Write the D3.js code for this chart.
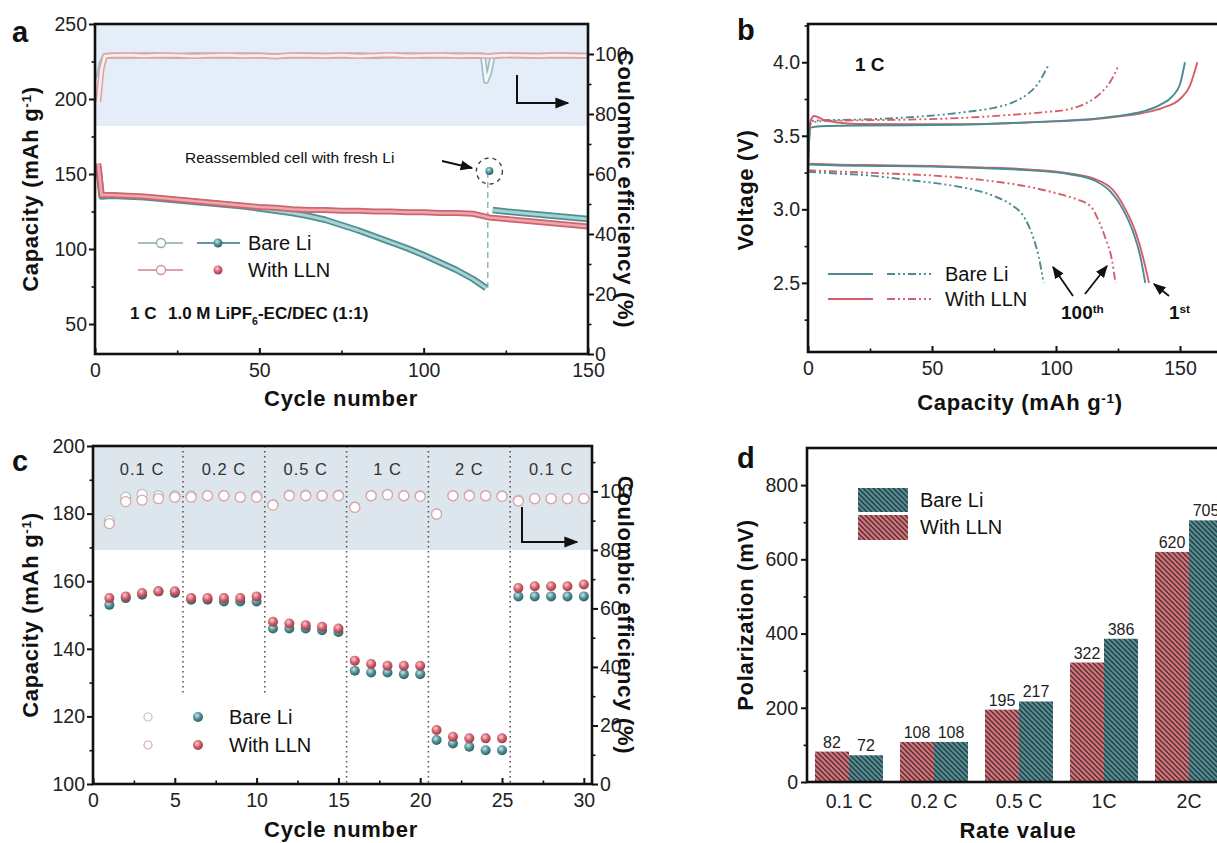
<!DOCTYPE html>
<html>
<head>
<meta charset="utf-8">
<script src="https://cdn.jsdelivr.net/npm/d3@7"></script>
<style>
body { margin: 0; background: #fff; }
text { font-family: 'Liberation Sans', Arial, sans-serif; }
</style>
</head>
<body>
<script>
// ---------- data ----------
// (a) cycling at 1 C
var bareCycA = [1, 2, 5, 10, 15, 20, 25, 30, 35, 40, 45, 50, 55, 60, 65, 70, 75, 80, 85, 90, 95, 100, 105, 110, 115, 119];
var bareCapA = [155, 135, 135.5, 135, 134.5, 133.5, 132.5, 131.5, 130.5, 129.5, 128.5, 127, 125.5, 124, 122, 119.5, 116, 112.5, 108.5, 104.5, 100.5, 96, 91, 86, 80, 74];
var bareCycA2 = [120, 121, 125, 130, 135, 140, 145, 150];
var bareCapA2 = [152, 126, 125, 124, 123, 122, 121, 120];
var llnCycA = [1, 2, 5, 10, 15, 20, 25, 30, 35, 40, 45, 50, 55, 60, 65, 70, 75, 80, 85, 90, 95, 100, 105, 110, 115, 120, 125, 130, 135, 140, 145, 150];
var llnCapA = [157, 136, 136, 135.5, 135, 134, 133, 132, 131, 130, 129, 128, 127.5, 126.5, 126, 126, 125.5, 125.5, 125, 125, 124.5, 124.5, 124, 124, 123.5, 121, 120, 119, 118, 117, 116, 115];
var bareCycCE = [1, 2, 3, 5, 10, 15, 20, 25, 30, 35, 40, 45, 50, 55, 60, 65, 70, 75, 80, 85, 90, 95, 100, 105, 110, 115, 118, 119, 120, 121, 125, 130, 135, 140, 145, 150];
var bareCE = [91.5, 97, 99.3, 99.5, 99.4, 99.6, 99.5, 99.3, 99.6, 99.5, 99.4, 99.6, 99.5, 99.3, 99.5, 99.6, 99.4, 99.5, 99.6, 99.3, 99.5, 99.6, 99.4, 99.5, 99.6, 99.4, 99.5, 91, 94, 99.4, 99.6, 99.5, 99.4, 99.6, 99.5, 99.4];
var llnCycCE = [1, 2, 3, 5, 10, 15, 20, 25, 30, 35, 40, 45, 50, 55, 60, 65, 70, 75, 80, 85, 90, 95, 100, 105, 110, 115, 120, 125, 130, 135, 140, 145, 150];
var llnCE = [84, 95, 99.3, 99.5, 99.6, 99.4, 99.6, 99.5, 99.3, 99.5, 99.6, 99.4, 99.5, 99.2, 99.6, 99.5, 99.4, 99.6, 99.3, 99.5, 99.7, 99.4, 99.5, 99.6, 99.4, 99.5, 99.3, 99.6, 99.5, 99.4, 99.6, 99.5, 99.4];

// (b) voltage profiles, [capacity, voltage]
var bareCh1 = [[0, 3.3], [1, 3.555], [5, 3.565], [20, 3.57], [40, 3.572], [60, 3.575], [80, 3.585], [100, 3.6], [115, 3.615], [125, 3.635], [135, 3.665], [142, 3.71], [147, 3.77], [150, 3.85], [152, 4.0]];
var llnCh1 = [[0, 3.3], [1, 3.6], [2.5, 3.635], [6, 3.61], [12, 3.59], [20, 3.58], [40, 3.578], [60, 3.578], [80, 3.585], [100, 3.598], [115, 3.612], [125, 3.63], [135, 3.655], [143, 3.69], [150, 3.75], [154, 3.84], [157, 4.0]];
var bareCh100 = [[0, 3.25], [1, 3.6], [5, 3.605], [20, 3.61], [40, 3.625], [55, 3.645], [65, 3.665], [75, 3.69], [83, 3.73], [89, 3.79], [93, 3.86], [96, 3.95], [97, 3.98]];
var llnCh100 = [[0, 3.25], [1, 3.58], [5, 3.6], [20, 3.605], [40, 3.61], [60, 3.62], [80, 3.64], [95, 3.66], [105, 3.68], [112, 3.72], [118, 3.79], [122, 3.87], [125, 3.97]];
var bareDis1 = [[0, 3.305], [10, 3.3], [30, 3.295], [50, 3.29], [70, 3.28], [90, 3.265], [105, 3.24], [115, 3.2], [122, 3.12], [127, 3.0], [131, 2.85], [134, 2.68], [136, 2.5]];
var llnDis1 = [[0, 3.31], [10, 3.305], [30, 3.3], [50, 3.295], [70, 3.285], [90, 3.27], [105, 3.245], [115, 3.21], [123, 3.13], [128, 3.0], [132, 2.85], [135, 2.68], [137.5, 2.5]];
var bareDis100 = [[0, 3.255], [10, 3.245], [25, 3.23], [40, 3.2], [55, 3.17], [65, 3.14], [75, 3.09], [82, 3.03], [87, 2.95], [91, 2.8], [93, 2.68], [95, 2.5]];
var llnDis100 = [[0, 3.265], [15, 3.255], [30, 3.245], [50, 3.23], [70, 3.2], [90, 3.15], [100, 3.11], [108, 3.07], [114, 3.02], [117, 2.93], [120, 2.8], [122.5, 2.66], [124, 2.5]];

// (c) rate capability
var cycC = [1, 2, 3, 4, 5, 6, 7, 8, 9, 10, 11, 12, 13, 14, 15, 16, 17, 18, 19, 20, 21, 22, 23, 24, 25, 26, 27, 28, 29, 30];
var bareCapC = [153, 155, 156, 157, 156.5, 154.5, 154.5, 154, 154, 154, 146, 146, 146, 145.5, 145, 133.5, 133, 133, 132.5, 132.5, 113, 112, 111, 110, 110, 155.5, 155.5, 155.5, 155.5, 155.5];
var llnCapC = [155, 155.5, 156.5, 157, 157, 155, 155, 155, 155, 155.5, 148, 147.5, 147, 146.5, 146, 136.5, 135.5, 135, 135, 135, 116, 114, 113.5, 113.5, 113.5, 158, 158.5, 158.5, 158.5, 159];
var bareCEC = [90, 98, 99, 98.5, 98.5, 98.5, 98.5, 98.5, 98, 98.5, 95.5, 98.8, 98.8, 98.5, 98.8, 94.7, 98.5, 99, 98.5, 98.5, 92.3, 98.5, 98.8, 98.5, 98.5, 97, 97.5, 97.5, 97.5, 97.5];
var llnCEC = [89, 96.5, 97, 97.5, 98, 98, 98.5, 98.5, 98, 98, 95.3, 98.5, 98.5, 98.5, 98.5, 94.5, 98.5, 98.8, 98.5, 98.3, 92.2, 98.5, 98.5, 98.5, 98.3, 96.7, 97.5, 97.5, 97.5, 97.5];
var rateLabels = ["0.1 C", "0.2 C", "0.5 C", "1 C", "2 C", "0.1 C"];
var rateMid = [3, 8, 13, 18, 23, 28];
var rateBreaks = [5.5, 10.5, 15.5, 20.5, 25.5];

// (d) polarization
var rates = ["0.1 C", "0.2 C", "0.5 C", "1C", "2C"];
var polLLN = [82, 108, 195, 322, 620];
var polBare = [72, 108, 217, 386, 705];

// ---------- colours ----------
var TEAL = "#4a8c91", RED = "#d45f6b";
var FONT = "'Liberation Sans', Arial, sans-serif";
var TICK = 19.5, TITLE = 22;

var svg = d3.select("body").append("svg")
    .attr("width", 1217)
    .attr("height", 843);

var defs = svg.append("defs");

defs.append("marker")
    .attr("id", "arr")
    .attr("viewBox", "0 0 10 10")
    .attr("refX", 9).attr("refY", 5)
    .attr("markerWidth", 7).attr("markerHeight", 7)
    .attr("orient", "auto")
  .append("path")
    .attr("d", "M0,1 L10,5 L0,9 z")
    .attr("fill", "#111");

function sphere(id, light, mid, dark) {
  var gr = defs.append("radialGradient").attr("id", id)
      .attr("cx", "40%").attr("cy", "35%").attr("r", "65%");
  gr.append("stop").attr("offset", "0%").attr("stop-color", light);
  gr.append("stop").attr("offset", "55%").attr("stop-color", mid);
  gr.append("stop").attr("offset", "100%").attr("stop-color", dark);
}
sphere("ballTeal", "#c9e6e6", "#4f9096", "#2b6166");
sphere("ballRed", "#f9cdd1", "#d2606c", "#9c3b47");

function hatch(id, fill) {
  var p = defs.append("pattern").attr("id", id)
      .attr("patternUnits", "userSpaceOnUse")
      .attr("width", 5).attr("height", 5);
  p.append("rect").attr("width", 5).attr("height", 5).attr("fill", fill);
  p.append("path")
      .attr("d", "M-1,4 l2,2 M0,0 l5,5 M4,-1 l2,2")
      .attr("stroke", "#222").attr("stroke-width", 1.3).attr("stroke-opacity", 0.8);
}
hatch("hatchTeal", "#4f8e95");
hatch("hatchRed", "#d9717b");

// ---------- helpers ----------
function axis(pos, scale, orient, major, minor, fmt, inward, pad) {
  var mk = orient === "left" ? d3.axisLeft : orient === "right" ? d3.axisRight : d3.axisBottom;
  var t = orient === "bottom" ? "translate(0," + pos + ")" : "translate(" + pos + ",0)";
  var s = inward ? -1 : 1;
  if (minor) {
    var m = svg.append("g").attr("transform", t)
        .call(mk(scale).tickValues(minor).tickSize(3.5 * s).tickFormat(""));
    m.select(".domain").remove();
    m.selectAll("line").attr("stroke", "#111").attr("stroke-width", 1.6);
  }
  var a = svg.append("g").attr("transform", t)
      .call(mk(scale).tickValues(major).tickSize(6 * s).tickPadding(pad).tickFormat(fmt));
  a.select(".domain").remove();
  a.selectAll("line").attr("stroke", "#111").attr("stroke-width", 2);
  a.selectAll("text")
      .attr("font-family", FONT)
      .attr("font-size", TICK)
      .attr("fill", "#222");
  return a;
}

function frame(x0, y0, x1, y1) {
  svg.append("rect")
      .attr("x", x0).attr("y", y0)
      .attr("width", x1 - x0).attr("height", y1 - y0)
      .attr("fill", "none")
      .attr("stroke", "#111")
      .attr("stroke-width", 2.6);
}

function label(x, y, txt, size, weight, anchor, rot) {
  var t = svg.append("text")
      .attr("transform", "translate(" + x + "," + y + ")" + (rot ? " rotate(" + rot + ")" : ""))
      .attr("font-size", size)
      .attr("font-weight", weight || "normal")
      .attr("text-anchor", anchor || "start")
      .attr("fill", "#111");
  if (typeof txt === "string") {
    t.text(txt);
  } else {
    txt.forEach(function(part) {
      var sp = t.append("tspan").text(part[0]);
      if (part[1] === "sup") sp.attr("baseline-shift", "super").attr("font-size", size * 0.62);
      if (part[1] === "sub") sp.attr("baseline-shift", "sub").attr("font-size", size * 0.62);
    });
  }
  return t;
}

function title(x, y, txt, rot) {
  return label(x, y, txt, TITLE, "bold", "middle", rot).attr("letter-spacing", 0.7);
}

var capTitle = [["Capacity (mAh g"], ["-1", "sup"], [")"]];

// =========================================================
// (a) long-term cycling
// =========================================================
var aX = d3.scaleLinear().domain([0, 150]).range([95, 588]);
var aY = d3.scaleLinear().domain([30, 250]).range([354, 24]);
var aY2 = d3.scaleLinear().domain([0, 110]).range([354, 24]);

svg.append("rect")
    .attr("x", aX(0)).attr("y", aY2(110))
    .attr("width", aX(150) - aX(0))
    .attr("height", aY2(76) - aY2(110))
    .attr("fill", "#e5eef8");

function zipA(xs, ys) { return xs.map(function(c, i) { return [c, ys[i]]; }); }
var aLine = d3.line().x(function(d) { return aX(d[0]); }).y(function(d) { return aY(d[1]); });
var aLineCE = d3.line().x(function(d) { return aX(d[0]); }).y(function(d) { return aY2(d[1]); });

function chain(path, d, outer, inner, w) {
  svg.append("path").attr("d", path(d)).attr("fill", "none")
      .attr("stroke", outer).attr("stroke-width", w).attr("stroke-linejoin", "round");
  svg.append("path").attr("d", path(d)).attr("fill", "none")
      .attr("stroke", inner).attr("stroke-width", w * 0.45).attr("stroke-linejoin", "round");
}

// coulombic efficiency chains
chain(aLineCE, zipA(bareCycCE, bareCE), "#9fbcc0", "#f3f8f8", 6);
chain(aLineCE, zipA(llnCycCE, llnCE), "#dba5aa", "#fbeeee", 6);

// reassembly jump
svg.append("line")
    .attr("x1", aX(119.5)).attr("x2", aX(119.5))
    .attr("y1", aY(74)).attr("y2", aY(150))
    .attr("stroke", "#8fb7bb").attr("stroke-width", 1.5)
    .attr("stroke-dasharray", "6,4");

// capacity chains
chain(aLine, zipA(bareCycA, bareCapA), "#4f8f94", "#a7d3d3", 6.5);
chain(aLine, zipA(bareCycA2.slice(1), bareCapA2.slice(1)), "#4f8f94", "#a7d3d3", 6.5);
chain(aLine, zipA(llnCycA, llnCapA), "#cc6570", "#efa6ac", 6);

svg.append("circle")
    .attr("cx", aX(bareCycA2[0])).attr("cy", aY(bareCapA2[0])).attr("r", 4)
    .attr("fill", "url(#ballTeal)");
svg.append("circle")
    .attr("cx", aX(bareCycA2[0])).attr("cy", aY(bareCapA2[0])).attr("r", 13)
    .attr("fill", "none").attr("stroke", "#333").attr("stroke-width", 1.3)
    .attr("stroke-dasharray", "4,4");

label(185, 163, "Reassembled cell with fresh Li", 15.5, "normal", "start");
svg.append("line").attr("x1", 442).attr("y1", 161).attr("x2", 472).attr("y2", 168)
    .attr("stroke", "#111").attr("stroke-width", 1.8).attr("marker-end", "url(#arr)");

svg.append("path").attr("d", "M517,75 V103 H568")
    .attr("fill", "none").attr("stroke", "#111").attr("stroke-width", 2)
    .attr("marker-end", "url(#arr)");

// legend (a)
svg.append("line").attr("x1", 138).attr("x2", 183).attr("y1", 243).attr("y2", 243)
    .attr("stroke", "#a6c0c2").attr("stroke-width", 2);
svg.append("circle").attr("cx", 161).attr("cy", 243).attr("r", 4.5)
    .attr("fill", "#fff").attr("stroke", "#8aa9ac").attr("stroke-width", 1.3);
svg.append("line").attr("x1", 197).attr("x2", 240).attr("y1", 243).attr("y2", 243)
    .attr("stroke", "#5f999d").attr("stroke-width", 2);
svg.append("circle").attr("cx", 218).attr("cy", 243).attr("r", 4.5).attr("fill", "url(#ballTeal)");
svg.append("line").attr("x1", 138).attr("x2", 183).attr("y1", 270).attr("y2", 270)
    .attr("stroke", "#dca4a8").attr("stroke-width", 2);
svg.append("circle").attr("cx", 161).attr("cy", 270).attr("r", 4.5)
    .attr("fill", "#fff").attr("stroke", "#d08f95").attr("stroke-width", 1.3);
svg.append("circle").attr("cx", 218).attr("cy", 270).attr("r", 4.5).attr("fill", "url(#ballRed)");
label(248, 250, "Bare Li", 20, "normal", "start");
label(248, 277, "With LLN", 20, "normal", "start");

label(130, 319, "1 C", 17, "bold", "start");
label(168, 319, [["1.0 M LiPF"], ["6", "sub"], ["-EC/DEC (1:1)"]], 17, "bold", "start");

frame(95, 24, 588, 354);
axis(95, aY, "left", [50, 100, 150, 200, 250], [75, 125, 175, 225], d3.format("d"), false, 2);
axis(588, aY2, "right", [0, 20, 40, 60, 80, 100], [10, 30, 50, 70, 90], d3.format("d"), false, 1);
axis(354, aX, "bottom", [0, 50, 100, 150], [25, 75, 125], d3.format("d"), true, 9);

label(12, 42, "a", 29, "bold", "start");
title(38, 189, capTitle, -90);
title(618, 189, "Coulombic efficiency (%)", 90);
title(341, 406, "Cycle number");

// =========================================================
// (b) voltage profiles
// =========================================================
var bX = d3.scaleLinear().domain([0, 175]).range([808, 1242]);
var bY = d3.scaleLinear().domain([2.03, 4.26]).range([352, 24]);
var bLine = d3.line()
    .x(function(d) { return bX(d[0]); })
    .y(function(d) { return bY(d[1]); })
    .curve(d3.curveMonotoneX);
var DDOT = "8,3,2,3,2,3";

[[bareDis100, TEAL, DDOT], [llnDis100, RED, DDOT], [bareCh100, TEAL, DDOT], [llnCh100, RED, DDOT],
 [llnDis1, RED, null], [llnCh1, RED, null], [bareDis1, TEAL, null], [bareCh1, TEAL, null]]
  .forEach(function(s) {
    svg.append("path").attr("d", bLine(s[0]))
        .attr("fill", "none").attr("stroke", s[1])
        .attr("stroke-width", 1.9)
        .attr("stroke-dasharray", s[2]);
  });

label(855, 71, "1 C", 19, "bold", "start");

// legend (b)
svg.append("line").attr("x1", 828).attr("x2", 873).attr("y1", 274).attr("y2", 274).attr("stroke", TEAL).attr("stroke-width", 2);
svg.append("line").attr("x1", 887).attr("x2", 931).attr("y1", 274).attr("y2", 274).attr("stroke", TEAL).attr("stroke-width", 2).attr("stroke-dasharray", DDOT);
svg.append("line").attr("x1", 828).attr("x2", 873).attr("y1", 299).attr("y2", 299).attr("stroke", RED).attr("stroke-width", 2);
svg.append("line").attr("x1", 887).attr("x2", 931).attr("y1", 299).attr("y2", 299).attr("stroke", RED).attr("stroke-width", 2).attr("stroke-dasharray", DDOT);
label(945, 281, "Bare Li", 20, "normal", "start");
label(945, 306, "With LLN", 20, "normal", "start");

// annotations
[[1073, 296, 1053, 267], [1085, 294, 1107, 266], [1169, 296, 1154, 284]].forEach(function(a) {
  svg.append("line").attr("x1", a[0]).attr("y1", a[1]).attr("x2", a[2]).attr("y2", a[3])
      .attr("stroke", "#111").attr("stroke-width", 1.8).attr("marker-end", "url(#arr)");
});
label(1061, 319, [["100"], ["th", "sup"]], 19, "bold", "start");
label(1169, 319, [["1"], ["st", "sup"]], 19, "bold", "start");

frame(808, 24, 1250, 352);
axis(808, bY, "left", [2.5, 3.0, 3.5, 4.0], [2.25, 2.75, 3.25, 3.75, 4.25].filter(function(v) { return v < 4.26; }), d3.format(".1f"), false, 2);
axis(352, bX, "bottom", [0, 50, 100, 150], [25, 75, 125, 175], d3.format("d"), true, 9);

label(737, 40, "b", 29, "bold", "start");
title(753, 190, "Voltage (V)", -90);
title(1020, 410, capTitle);

// =========================================================
// (c) rate capability
// =========================================================
var cX = d3.scaleLinear().domain([0, 30.5]).range([93, 592]);
var cY = d3.scaleLinear().domain([100, 200]).range([784, 446]);
var cY2 = d3.scaleLinear().domain([0, 115.5]).range([784, 446]);

svg.append("rect")
    .attr("x", cX(0)).attr("y", cY2(115.5))
    .attr("width", cX(30.5) - cX(0))
    .attr("height", cY2(80) - cY2(115.5))
    .attr("fill", "#dde5ed");

rateBreaks.forEach(function(b, i) {
  svg.append("line")
      .attr("x1", cX(b)).attr("x2", cX(b))
      .attr("y1", cY(200)).attr("y2", i < 2 ? cY(126) : cY(100))
      .attr("stroke", "#555").attr("stroke-width", 1.6)
      .attr("stroke-dasharray", "1.6,3.4");
});

rateLabels.forEach(function(r, i) {
  label(cX(rateMid[i]), 475, r, 16.5, "normal", "middle").attr("letter-spacing", 1).attr("fill", "#333");
});

svg.append("g").selectAll("circle").data(cycC).enter().append("circle")
    .attr("cx", function(d) { return cX(d); })
    .attr("cy", function(d, i) { return cY2(bareCEC[i]); })
    .attr("r", 5).attr("fill", "#fff").attr("stroke", "#b8c4c9").attr("stroke-width", 1.3);
svg.append("g").selectAll("circle").data(cycC).enter().append("circle")
    .attr("cx", function(d) { return cX(d); })
    .attr("cy", function(d, i) { return cY2(llnCEC[i]); })
    .attr("r", 5).attr("fill", "#fff").attr("stroke", "#d9a5aa").attr("stroke-width", 1.3);

svg.append("g").selectAll("circle").data(cycC).enter().append("circle")
    .attr("cx", function(d) { return cX(d); })
    .attr("cy", function(d, i) { return cY(bareCapC[i]); })
    .attr("r", 5).attr("fill", "url(#ballTeal)");
svg.append("g").selectAll("circle").data(cycC).enter().append("circle")
    .attr("cx", function(d) { return cX(d); })
    .attr("cy", function(d, i) { return cY(llnCapC[i]); })
    .attr("r", 5).attr("fill", "url(#ballRed)");

svg.append("path").attr("d", "M522,507 V542 H577")
    .attr("fill", "none").attr("stroke", "#111").attr("stroke-width", 2)
    .attr("marker-end", "url(#arr)");

// legend (c)
svg.append("circle").attr("cx", 148).attr("cy", 717).attr("r", 4).attr("fill", "#fff").attr("stroke", "#b8c4c9").attr("stroke-width", 1.2);
svg.append("circle").attr("cx", 148).attr("cy", 745).attr("r", 4).attr("fill", "#fff").attr("stroke", "#d9a5aa").attr("stroke-width", 1.2);
svg.append("circle").attr("cx", 198).attr("cy", 717).attr("r", 5).attr("fill", "url(#ballTeal)");
svg.append("circle").attr("cx", 198).attr("cy", 745).attr("r", 5).attr("fill", "url(#ballRed)");
label(229, 724, "Bare Li", 20, "normal", "start");
label(229, 752, "With LLN", 20, "normal", "start");

frame(93, 446, 592, 784);
axis(93, cY, "left", [100, 120, 140, 160, 180, 200], [110, 130, 150, 170, 190], d3.format("d"), false, 2);
axis(592, cY2, "right", [0, 20, 40, 60, 80, 100], [10, 30, 50, 70, 90, 110], d3.format("d"), false, 2);
axis(784, cX, "bottom", [0, 5, 10, 15, 20, 25, 30], [2.5, 7.5, 12.5, 17.5, 22.5, 27.5], d3.format("d"), true, 9);

label(12, 471, "c", 29, "bold", "start");
title(38, 615, capTitle, -90);
title(618, 615, "Coulombic efficiency (%)", 90);
title(341, 837, "Cycle number");

// =========================================================
// (d) polarization
// =========================================================
var dX = d3.scaleBand().domain(rates).range([807, 1231]).paddingInner(0.2).paddingOuter(0.094);
var dSub = d3.scaleBand().domain(["lln", "bare"]).range([0, dX.bandwidth()]);
var dY = d3.scaleLinear().domain([0, 900]).range([782, 448]);

var groups = svg.append("g").selectAll("g").data(rates).enter().append("g")
    .attr("transform", function(d) { return "translate(" + dX(d) + ",0)"; });

groups.append("rect")
    .attr("x", dSub("lln"))
    .attr("y", function(d, i) { return dY(polLLN[i]); })
    .attr("width", dSub.bandwidth())
    .attr("height", function(d, i) { return dY(0) - dY(polLLN[i]); })
    .attr("fill", "url(#hatchRed)");
groups.append("rect")
    .attr("x", dSub("bare"))
    .attr("y", function(d, i) { return dY(polBare[i]); })
    .attr("width", dSub.bandwidth())
    .attr("height", function(d, i) { return dY(0) - dY(polBare[i]); })
    .attr("fill", "url(#hatchTeal)");

groups.append("text")
    .attr("x", dSub("lln") + dSub.bandwidth() / 2)
    .attr("y", function(d, i) { return dY(polLLN[i]) - 4; })
    .attr("text-anchor", "middle").attr("font-size", 16).attr("fill", "#222")
    .text(function(d, i) { return polLLN[i]; });
groups.append("text")
    .attr("x", dSub("bare") + dSub.bandwidth() / 2)
    .attr("y", function(d, i) { return dY(polBare[i]) - 4; })
    .attr("text-anchor", "middle").attr("font-size", 16).attr("fill", "#222")
    .text(function(d, i) { return polBare[i]; });

// legend (d)
svg.append("rect").attr("x", 858).attr("y", 488).attr("width", 50).attr("height", 24).attr("fill", "url(#hatchTeal)");
svg.append("rect").attr("x", 858).attr("y", 515).attr("width", 50).attr("height", 25).attr("fill", "url(#hatchRed)");
label(920, 507, "Bare Li", 20, "normal", "start");
label(920, 534, "With LLN", 20, "normal", "start");

frame(807, 448, 1250, 782);
axis(807, dY, "left", [0, 200, 400, 600, 800], [100, 300, 500, 700], d3.format("d"), false, 3);
var dAx = svg.append("g").attr("transform", "translate(0,782)")
    .call(d3.axisBottom(dX).tickSize(0).tickPadding(12));
dAx.select(".domain").remove();
dAx.selectAll("text").attr("font-family", FONT).attr("font-size", TICK).attr("fill", "#222");

label(737, 468, "d", 29, "bold", "start");
title(753, 615, "Polarization (mV)", -90);
title(1018, 838, "Rate value");
</script>
</body>
</html>
